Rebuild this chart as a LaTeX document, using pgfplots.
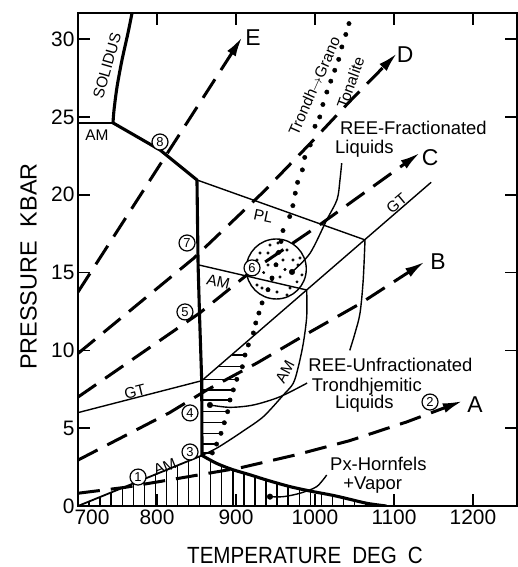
\documentclass[border=0pt]{standalone}
\usepackage{fontspec}
\setmainfont{Liberation Sans}
\newfontfamily\labfont{Liberation Sans}[FakeStretch=0.88]
\usepackage{pgfplots}
\pgfplotsset{compat=1.18}
\usetikzlibrary{arrows.meta}
\tikzset{
 thk/.style={line width=3.1bp, line join=round, line cap=round},
 thn/.style={line width=1.4bp},
 dsh/.style={line width=3bp, dash pattern=on 22bp off 11bp, -{Latex[length=20bp,width=10bp]}},
 lab/.style={font=\fontsize{18.5}{20}\selectfont, inner sep=0pt},
 sml/.style={font=\fontsize{15.5}{16}\selectfont, inner sep=0pt},
 let/.style={font=\fontsize{23}{24}\selectfont, inner sep=0pt},
 cn/.style={circle, draw, line width=1.2bp, inner sep=0pt, minimum size=16bp, fill=white, font=\fontsize{13}{13}\selectfont},
}
\begin{document}
\begin{tikzpicture}
\begin{axis}[
  name=ax, at={(0,0)}, anchor=south west,
  scale only axis, width=439bp, height=493bp,
  xmin=700, xmax=1255.7, ymin=0, ymax=31.68,
  xtick={700,800,900,1000,1100,1200},
  xticklabels={\hspace{28bp}700,800,900,1000,1100,1200},
  ytick={0,5,10,15,20,25,30},
  tick align=inside, major tick length=12bp,
  axis line style={line width=1.8bp},
  every tick/.style={line width=1.5bp, black},
  tick label style={font=\fontsize{21}{22}\selectfont},
  /pgf/number format/assume math mode=true,
  unbounded coords=jump,
]
% vertical hatching (lower region)
\addplot[ycomb, thn] coordinates {(714,0.29)(728,0.58)(742,0.87)(756,1.16)(770,1.45)(784,1.74)(798,2.03)(812,2.32)(826,2.61)(840,2.90)(854,3.15)(868,2.94)(882,2.61)(896,2.33)(910,2.12)(924,1.90)(938,1.68)(952,1.48)(966,1.28)(980,1.12)(994,0.96)(1008,0.82)(1022,0.69)(1036,0.53)(1050,0.36)(1064,0.19)};
% horizontal hatching
\addplot[thn] coordinates {(895,9.70)(911.4,9.70) (nan,nan) (877.5,8.95)(908,8.95) (nan,nan) (858,8.14)(901,8.14) (nan,nan) (857,7.46)(896.6,7.46) (nan,nan) (857,6.81)(892.4,6.81) (nan,nan) (857,6.06)(889.4,6.06) (nan,nan) (857,5.35)(885.2,5.35) (nan,nan) (857,4.67)(881,4.67) (nan,nan) (857,3.98)(875.4,3.98) (nan,nan) (857,3.41)(870,3.41)};
% solidus
\addplot[thk, smooth] coordinates {(768.4,31.68)(763.3,30.40)(755.7,28.66)(749.4,26.93)(745.6,25.45)(744.3,24.62)};
\addplot[thk] coordinates {(744.3,24.62)(803.8,22.88)(850.6,20.95)(852,15.5)(854,12)(856.6,8.05)(857,3.25)};
\addplot[thk, smooth] coordinates {(857,3.25)(875,2.75)(895,2.35)(918,2.0)(940,1.65)(968,1.25)(995,0.95)(1023,0.68)(1045,0.42)(1066,0.17)(1090,0)};
% thin boundaries
\addplot[line width=1.8bp] coordinates {(700,0)(857,3.25)};
\addplot[thn] coordinates {(700,24.62)(744.3,24.62)};
\addplot[thn] coordinates {(850.6,20.95)(1063.3,17.1)};
\addplot[thn] coordinates {(700,6.0)(856.6,8.05)(1147,20.8)};
\addplot[thn] coordinates {(852,15.5)(989.5,13.88)};
\addplot[thn, smooth] coordinates {(989.5,13.88)(989.5,12.17)(985.2,10.46)(978.9,8.95)(972.5,7.89)(959.9,7.13)(934.6,5.74)(910,4.85)(892,4.24)(875,3.7)(857,3.25)};
\addplot[thn, smooth] coordinates {(1063.3,17.1)(1061,14.5)(1057,12.4)(1050.6,11.1)(1044,10.0)};
% leaders
\addplot[thn, smooth] coordinates {(1033.8,22.03)(1031.6,20.95)(1028,19.7)(1014.8,18.38)(993.7,16.24)(970.9,15.04)};
\addplot[thn, smooth] coordinates {(990,7.9)(955.7,7.02)(921.9,6.49)(892.4,6.34)(867,6.49)};
\addplot[thn, smooth] coordinates {(1014.8,1.99)(1002,1.24)(981,0.82)(960,0.6)(943,0.6)};
\addplot[only marks, mark=*, mark size=2.8bp] coordinates {(970.9,15.04)(867,6.49)(943,0.6)};
% circle region
\draw[line width=1.4bp] (axis cs:951,15.23) circle[radius=30bp];
\addplot[only marks, mark=*, mark size=1.3bp] coordinates {(953.2,16.90)(964.6,16.45)(940.5,16.26)(930.4,16.26)(926.6,15.81)(951.9,16.26)(940.5,15.49)(959.5,15.81)(972.1,15.81)(978.5,15.49)(983.5,14.85)(955.7,14.72)(977.2,14.40)(945.6,14.52)(932.9,14.01)(940.5,13.88)(951.9,13.75)(964.6,13.56)(926.6,14.20)(968.4,14.01)(981,15.94)(943,16.77)(962,15.2)(935,15.0)};
% dotted Trondh-Grano-Tonalite line
\addplot[only marks, mark=*, mark size=2.2bp] coordinates {(870,3.41)(875.4,3.98)(881,4.67)(885.2,5.35)(889.4,6.06)(892.4,6.81)(896.6,7.46)(901,8.14)(908,8.95)(911.4,9.70)(915.6,10.35)(922,11.12)(925,11.76)(929,12.40)(933,13.05)(940.5,13.9)(945.6,14.65)(950.6,15.5)(954,16.3)(957,17.0)(959.5,17.7)(968,18.6)(972,19.3)(975,20.1)(978,20.8)(984,21.6)(987,22.4)(994,23.2)(1000,24.4)(1006,25.0)(1010,25.8)(1015,26.6)(1020,27.3)(1025,28.0)(1030,28.7)(1034,29.5)(1039,30.3)(1043,31.0)};
% dashed paths A-E
\addplot[dsh] coordinates {(700,0.82)(760,1.2)(830,1.8)(905,2.45)(977,3.3)(1044,4.2)(1116,5.4)(1187,6.75)};
\addplot[dsh] coordinates {(700,2.95)(816,6.0)(863,7.45)(927,9.2)(991,11.1)(1057,13.0)(1139,15.7)};
\addplot[dsh] coordinates {(700,7.0)(854,12.4)(920,15.1)(1004,18.0)(1133,22.7)};
\addplot[dsh] coordinates {(700,9.8)(846,15.9)(935,20.2)(994,23.3)(1044,26.0)(1104,29.1)};
\addplot[dsh] coordinates {(700,13.75)(908,30.15)};
% letters
\node[let] at (axis cs:921.5,30.1) {E};
\node[let] at (axis cs:1114,29.0) {D};
\node[let] at (axis cs:1145.6,22.37) {C};
\node[let] at (axis cs:1155.7,15.7) {B};
\node[let] at (axis cs:1202.5,6.5) {A};
% circled numbers
\node[cn] at (axis cs:776,1.86) {1};
\node[cn] at (axis cs:1145.6,6.68) {2};
\node[cn] at (axis cs:841.8,3.47) {3};
\node[cn] at (axis cs:841.8,5.98) {4};
\node[cn] at (axis cs:835.4,12.47) {5};
\node[cn] at (axis cs:920.3,15.30) {6};
\node[cn] at (axis cs:838,16.9) {7};
\node[cn] at (axis cs:803.8,23.39) {8};
% labels
\node[sml, rotate=74] at (axis cs:736.7,28.3) {SOLIDUS};
\node[sml] at (axis cs:724,23.84) {AM};
\node[sml, rotate=-12] at (axis cs:934.6,18.6) {PL};
\node[sml, rotate=40] at (axis cs:1103.4,19.45) {GT};
\node[sml, rotate=14] at (axis cs:772,7.35) {GT};
\node[sml, rotate=-13] at (axis cs:877.6,14.42) {AM};
\node[sml, rotate=62] at (axis cs:962,8.63) {AM};
\node[sml, rotate=22] at (axis cs:810,2.53) {AM};
\node[lab, anchor=base west] at (axis cs:1031.6,23.84) {REE-Fractionated};
\node[lab, anchor=base west] at (axis cs:1025.3,22.62) {Liquids};
\node[lab, anchor=base west] at (axis cs:991.5,8.63) {REE-Unfractionated};
\node[lab, anchor=base west] at (axis cs:995.8,7.35) {Trondhjemitic};
\node[lab, anchor=base west] at (axis cs:1025.3,6.28) {Liquids};
\node[lab, anchor=base west] at (axis cs:1019,2.31) {Px-Hornfels};
\node[lab, anchor=base west] at (axis cs:1035.8,1.03) {+Vapor};
\node[font=\fontsize{15.5}{16}\selectfont, inner sep=0pt, rotate=66] at (axis cs:999,27.0) {Trondh$\rightarrow$Grano};
\node[font=\fontsize{15.5}{16}\selectfont, inner sep=0pt, rotate=70] at (axis cs:1045,27.2) {Tonalite};
\end{axis}
\node[anchor=base, font=\labfont\fontsize{23.5}{24}\selectfont, inner sep=0pt] at ([shift={(227bp,-57bp)}]ax.south west) {TEMPERATURE\hspace{11bp}DEG\hspace{11bp}C};
\node[rotate=90, font=\fontsize{23.5}{24}\selectfont, inner sep=0pt] at ([shift={(-49.5bp,239.5bp)}]ax.south west) {PRESSURE\hspace{14bp}KBAR};
\pgfresetboundingbox
\path[use as bounding box] ([shift={(-78bp,-61bp)}]ax.south west) rectangle ([shift={(440bp,506bp)}]ax.south west);
\end{tikzpicture}
\end{document}
